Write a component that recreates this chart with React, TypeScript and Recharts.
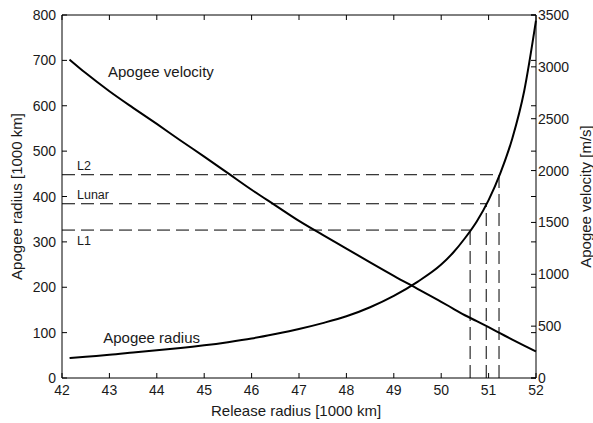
import { LineChart, Line, XAxis, YAxis, ReferenceLine, ReferenceDot } from "recharts";

// release radius [1000 km] and the two curves
const releaseRadius = [42.16, 42.5, 43, 43.5, 44, 44.5, 45, 45.5, 46, 46.5, 47, 47.5, 48, 48.5, 49, 49.5, 50, 50.25, 50.5, 50.75, 51, 51.25, 51.5, 51.75, 52];
const apogeeRadius = [44, 47, 51, 56, 61, 66, 72, 79, 87, 97, 108, 121, 136, 156, 181, 212, 250, 276, 308, 345, 392, 452, 528, 632, 788];
const apogeeVelocity = [3070, 2940, 2765, 2605, 2450, 2290, 2135, 1975, 1815, 1665, 1515, 1380, 1248, 1115, 985, 860, 735, 670, 605, 548, 490, 430, 370, 312, 256];

// reference orbits: name, apogee radius and the release radius that reaches it
const levelNames = ["L1", "Lunar", "L2"];
const levelRadius = [326, 384, 448];
const levelRelease = [50.61, 50.95, 51.22];

const xTicks = [42, 43, 44, 45, 46, 47, 48, 49, 50, 51, 52];
const leftTicks = [0, 100, 200, 300, 400, 500, 600, 700, 800];
const rightTicks = [0, 500, 1000, 1500, 2000, 2500, 3000, 3500];

const data = releaseRadius.map((r, i) => ({
  r,
  radius: apogeeRadius[i],
  velocity: apogeeVelocity[i],
}));

const W = 593;
const H = 423;
const TOP = 15;
const LEFT_W = 62;
const RIGHT_W = 57;
const BOTTOM_H = 45;
const PLOT_RIGHT = W - RIGHT_W;
const FONT = "'Liberation Sans', Arial, sans-serif";
const INK = "#1a1a1a";

const LeftTick = (props: any) => {
  const { x, y, payload } = props;
  const ax = x + 6;
  return (
    <g>
      <line x1={ax} x2={ax + 5} y1={y} y2={y} stroke="#000" />
      <line x1={PLOT_RIGHT - 5} x2={PLOT_RIGHT} y1={y} y2={y} stroke="#000" />
      <text x={x} y={y} dy="0.36em" textAnchor="end" fontSize={14} fontFamily={FONT} fill={INK}>
        {payload.value}
      </text>
    </g>
  );
};

const RightTick = (props: any) => {
  const { x, y, payload } = props;
  const ax = x - 2;
  return (
    <g>
      <line x1={ax - 5} x2={ax} y1={y} y2={y} stroke="#000" />
      <text x={x} y={y} dy="0.36em" textAnchor="start" fontSize={14} fontFamily={FONT} fill={INK}>
        {payload.value}
      </text>
    </g>
  );
};

const BottomTick = (props: any) => {
  const { x, y, payload } = props;
  const ay = y - 6;
  return (
    <g>
      <line x1={x} x2={x} y1={ay} y2={ay - 5} stroke="#000" />
      <line x1={x} x2={x} y1={TOP} y2={TOP + 5} stroke="#000" />
      <text x={x} y={y} dy="0.75em" textAnchor="middle" fontSize={14} fontFamily={FONT} fill={INK}>
        {payload.value}
      </text>
    </g>
  );
};

const levelLabel = (name: string) => (props: any) => {
  const { viewBox } = props;
  const below = name === "L1";
  return (
    <text
      x={viewBox.x + 15}
      y={below ? viewBox.y + 15 : viewBox.y - 5}
      fontSize={12.5}
      fontFamily={FONT}
      fill={INK}
    >
      {name}
    </text>
  );
};

const noteLabel = (text: string) => (props: any) => {
  const { viewBox } = props;
  return (
    <text x={viewBox.x} y={viewBox.y} fontSize={15} fontFamily={FONT} fill={INK}>
      {text}
    </text>
  );
};

export default function App() {
  return (
    <div style={{ position: "absolute", left: 0, top: 0, width: W, height: H, background: "#fff" }}>
      <LineChart width={W} height={H} data={data} margin={{ top: TOP, right: 0, left: 0, bottom: 0 }}>
        <XAxis
          dataKey="r"
          type="number"
          domain={[42, 52]}
          ticks={xTicks}
          height={BOTTOM_H}
          tickSize={0}
          tickMargin={6}
          tickLine={false}
          axisLine={{ stroke: "#000" }}
          tick={<BottomTick />}
          label={{
            content: (p: any) => (
              <text
                x={p.viewBox.x + p.viewBox.width / 2 - 3}
                y={p.viewBox.y + 38}
                textAnchor="middle"
                fontSize={15}
                fontFamily={FONT}
                fill={INK}
              >
                Release radius [1000 km]
              </text>
            ),
          }}
        />
        <YAxis
          yAxisId="left"
          domain={[0, 800]}
          ticks={leftTicks}
          width={LEFT_W}
          tickSize={0}
          tickMargin={6}
          tickLine={false}
          axisLine={{ stroke: "#000" }}
          tick={<LeftTick />}
          label={{
            content: (p: any) => {
              const cx = 17;
              const cy = p.viewBox.y + p.viewBox.height / 2;
              return (
                <text
                  x={cx}
                  y={cy}
                  transform={`rotate(-90 ${cx} ${cy})`}
                  textAnchor="middle"
                  dy="0.35em"
                  fontSize={15}
                  fontFamily={FONT}
                  fill={INK}
                >
                  Apogee radius [1000 km]
                </text>
              );
            },
          }}
        />
        <YAxis
          yAxisId="right"
          orientation="right"
          domain={[0, 3500]}
          ticks={rightTicks}
          width={RIGHT_W}
          tickSize={0}
          tickMargin={2}
          tickLine={false}
          axisLine={{ stroke: "#000" }}
          tick={<RightTick />}
          label={{
            content: (p: any) => {
              const cx = p.viewBox.x + 50;
              const cy = p.viewBox.y + p.viewBox.height / 2;
              return (
                <text
                  x={cx}
                  y={cy}
                  transform={`rotate(-90 ${cx} ${cy})`}
                  textAnchor="middle"
                  dy="0.35em"
                  fontSize={15}
                  fontFamily={FONT}
                  fill={INK}
                >
                  Apogee velocity [m/s]
                </text>
              );
            },
          }}
        />
        <ReferenceLine yAxisId="left" y={800} stroke="#000" />
        {levelNames.map((name, i) => (
          <ReferenceLine
            key={`h-${name}`}
            yAxisId="left"
            segment={[
              { x: 42, y: levelRadius[i] },
              { x: levelRelease[i], y: levelRadius[i] },
            ]}
            stroke="#000"
            strokeDasharray="13 6"
            label={{ content: levelLabel(name) }}
          />
        ))}
        {levelNames.map((name, i) => (
          <ReferenceLine
            key={`v-${name}`}
            yAxisId="left"
            segment={[
              { x: levelRelease[i], y: 0 },
              { x: levelRelease[i], y: levelRadius[i] },
            ]}
            stroke="#000"
            strokeDasharray="13 6"
          />
        ))}
        <ReferenceDot
          yAxisId="left"
          x={42.97}
          y={663}
          r={0}
          fill="none"
          stroke="none"
          label={{ content: noteLabel("Apogee velocity") }}
        />
        <ReferenceDot
          yAxisId="left"
          x={42.87}
          y={78}
          r={0}
          fill="none"
          stroke="none"
          label={{ content: noteLabel("Apogee radius") }}
        />
        <Line
          yAxisId="left"
          type="monotone"
          dataKey="radius"
          stroke="#000"
          strokeWidth={2}
          dot={false}
          isAnimationActive={false}
        />
        <Line
          yAxisId="right"
          type="monotone"
          dataKey="velocity"
          stroke="#000"
          strokeWidth={2}
          dot={false}
          isAnimationActive={false}
        />
      </LineChart>
    </div>
  );
}
